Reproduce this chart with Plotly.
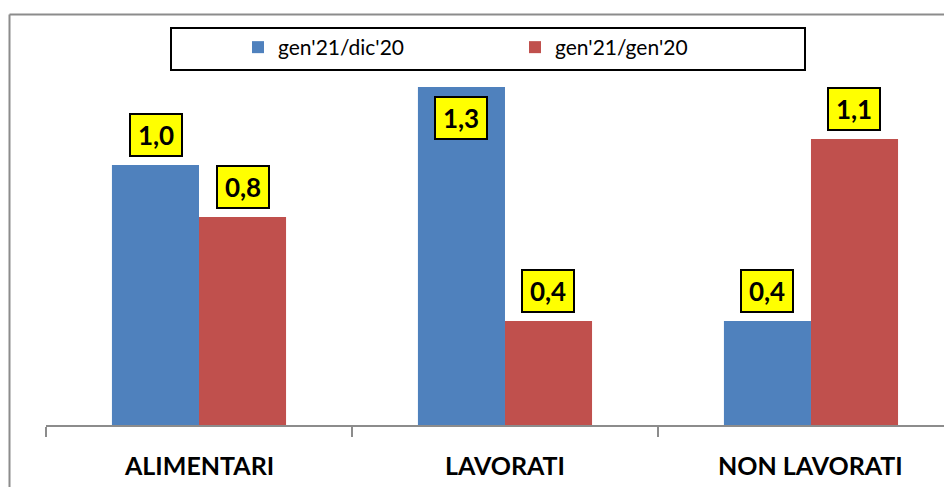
import plotly.graph_objects as go

categories = ["ALIMENTARI", "LAVORATI", "NON LAVORATI"]
series_names = ["gen'21/dic'20", "gen'21/gen'20"]
vals_dic = [1.0, 1.3, 0.4]
vals_gen = [0.8, 0.4, 1.1]
colors = ["#4F81BD", "#C0504D"]

W, H = 952, 487
OFF = 8  # page body margin offset
ML, MR, MT, MB = 46 - OFF, 0, 61 - OFF, 62 + OFF
PW = W - ML - MR
PH = H - MT - MB

FONT = "Lato, Carlito, Calibri, sans-serif"

fig = go.Figure()
fig.add_trace(go.Bar(x=categories, y=vals_dic, name=series_names[0],
                     marker=dict(color=colors[0], line=dict(width=0))))
fig.add_trace(go.Bar(x=categories, y=vals_gen, name=series_names[1],
                     marker=dict(color=colors[1], line=dict(width=0))))

YMAX = 1.4
label_font = dict(family=FONT, size=26, color="black")
half = 43.5
for vals, sh in ((vals_dic, -half), (vals_gen, half)):
    for c, v in zip(categories, vals):
        inside = v > 1.25
        fig.add_annotation(
            x=c, y=v, xref="x", yref="y", xshift=sh,
            yanchor="top" if inside else "bottom",
            yshift=-9 if inside else 8,
            text="<b>" + f"{v:.1f}".replace(".", ",") + "</b>",
            showarrow=False, font=label_font,
            bgcolor="#FFFF00", bordercolor="black", borderwidth=2,
            borderpad=1, width=48, height=38, align="center", valign="middle",
        )


def px(x):
    return (x - OFF - ML) / PW


def py(y):
    return (H - MB - (y - OFF)) / PH


# outer chart border (gray) and legend frame (black)
fig.add_shape(type="line", xref="paper", yref="paper",
              x0=px(9.5), x1=px(9.5), y0=py(14.5), y1=py(500),
              line=dict(color="#8C8C8C", width=2))
fig.add_shape(type="line", xref="paper", yref="paper",
              x0=px(9.5), x1=px(970), y0=py(14.5), y1=py(14.5),
              line=dict(color="#8C8C8C", width=2))
fig.add_shape(type="rect", xref="paper", yref="paper",
              x0=px(171), x1=px(805), y0=py(70), y1=py(28),
              line=dict(color="black", width=2), fillcolor="rgba(0,0,0,0)")

fig.update_layout(
    width=W, height=H,
    margin=dict(l=ML, r=MR, t=MT, b=MB, pad=0),
    paper_bgcolor="white", plot_bgcolor="white",
    barmode="group", bargap=0.431, bargroupgap=0,
    font=dict(family=FONT, color="black"),
    showlegend=True,
    legend=dict(orientation="h", x=px(238), xanchor="left",
                y=py(27), yanchor="top",
                entrywidth=232, entrywidthmode="pixels",
                font=dict(size=21, color="black"),
                bgcolor="rgba(0,0,0,0)", borderwidth=0,
                traceorder="normal"),
    xaxis=dict(range=[-0.5, 2.487], showgrid=False, zeroline=False,
               showline=True, linecolor="#8C8C8C", linewidth=2,
               ticks="outside", tickcolor="#8C8C8C", ticklen=10, tickwidth=2,
               tickmode="array", tickvals=[-0.5, 0.5, 1.5, 2.5],
               ticktext=["", "", "", ""], fixedrange=True),
    yaxis=dict(range=[0, YMAX], visible=False, fixedrange=True),
)

for c in categories:
    fig.add_annotation(x=c, y=0, xref="x", yref="y", yanchor="top", yshift=-23,
                       text=f"<b>{c}</b>", showarrow=False,
                       font=dict(family=FONT, size=25, color="black"))

fig.write_html("out.html")
